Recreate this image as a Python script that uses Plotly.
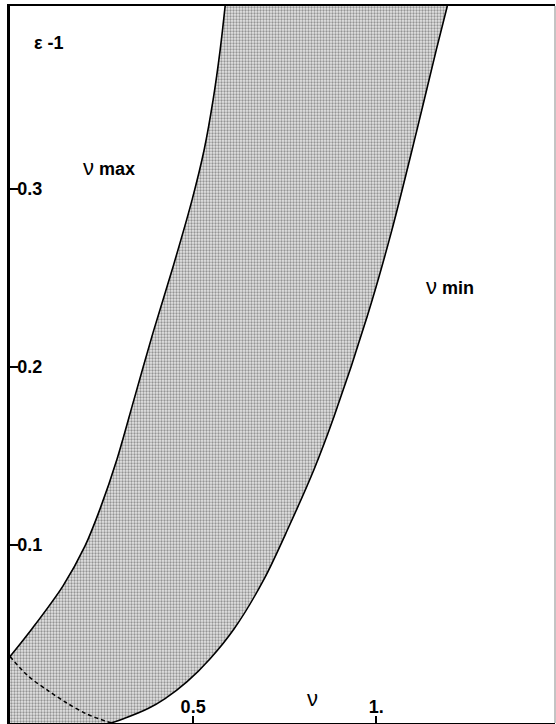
import plotly.graph_objects as go

# nu_max boundary (left edge of the band)
numax_nu = [0.0, 0.0601, 0.1448, 0.2049, 0.2459, 0.2923, 0.3388, 0.3907, 0.4454, 0.4973, 0.5301, 0.5546, 0.5738, 0.5874]
numax_eps = [0.0373, 0.0529, 0.0770, 0.0994, 0.1202, 0.1482, 0.1818, 0.2193, 0.2563, 0.2938, 0.3218, 0.3499, 0.3779, 0.4025]

# nu_min boundary (right edge of the band)
numin_nu = [0.2760, 0.3115, 0.3770, 0.4235, 0.4836, 0.5464, 0.6120, 0.6940, 0.7623, 0.8306, 0.8852, 0.9754, 1.0410, 1.1093, 1.1639, 1.1940]
numin_eps = [0.0, 0.0025, 0.0081, 0.0137, 0.0232, 0.0361, 0.0529, 0.0809, 0.1106, 0.1426, 0.1723, 0.2283, 0.2754, 0.3314, 0.3779, 0.4025]

# dashed continuation near origin
dash_nu = [0.0, 0.0500, 0.1066, 0.1530, 0.2100, 0.2760]
dash_eps = [0.0373, 0.0263, 0.0178, 0.0115, 0.0050, 0.0]

x_ticks = [0.5, 1.0]
x_tick_labels = ["0.5", "1."]
y_ticks = [0.1, 0.2, 0.3]
y_tick_labels = ["0.1", "0.2", "0.3"]

XMAX = 1.488
YMAX = 0.4025

# shaded region polygon: up the left curve, down the right curve, back along the axes
poly_x = numax_nu + numin_nu[::-1] + [0.0, 0.0]
poly_y = numax_eps + numin_eps[::-1] + [0.0, numax_eps[0]]

SM = 0.9
fig = go.Figure()
fig.add_trace(go.Scatter(
    x=poly_x, y=poly_y, mode="lines", fill="toself",
    line=dict(width=0, color="rgba(0,0,0,0)"),
    fillcolor="#d9d9d9",
    fillpattern=dict(shape=".", size=3, solidity=0.45, fgcolor="#444444", bgcolor="#e4e4e4"),
    hoverinfo="skip", showlegend=False,
))
fig.add_trace(go.Scatter(x=numax_nu, y=numax_eps, mode="lines",
                         line=dict(color="black", width=1.6, shape="spline", smoothing=SM), showlegend=False))
fig.add_trace(go.Scatter(x=numin_nu, y=numin_eps, mode="lines",
                         line=dict(color="black", width=1.6, shape="spline", smoothing=SM), showlegend=False))
fig.add_trace(go.Scatter(x=dash_nu, y=dash_eps, mode="lines",
                         line=dict(color="black", width=1.5, dash="4px,3px", shape="spline", smoothing=SM),
                         showlegend=False))

font_lbl = dict(family="Liberation Sans, Arial, sans-serif", size=18, color="black")

fig.update_xaxes(
    range=[0, XMAX], showgrid=False, zeroline=False,
    showline=True, linecolor="black", linewidth=2, mirror=True,
    ticks="inside", ticklen=7, tickwidth=1.5, tickcolor="black",
    tickvals=x_ticks, ticktext=["<b>%s</b>" % t for t in x_tick_labels],
    ticklabelposition="inside", tickfont=font_lbl,
)
fig.update_yaxes(
    range=[0, YMAX], showgrid=False, zeroline=False,
    showline=True, linecolor="black", linewidth=2.5,
    ticks="inside", ticklen=8, tickwidth=1.5, tickcolor="black",
    tickvals=y_ticks, ticktext=["<b>%s</b>" % t for t in y_tick_labels],
    ticklabelposition="inside", tickfont=font_lbl,
)

fig.add_shape(type="line", xref="paper", yref="paper", x0=1, x1=1, y0=0, y1=1,
              line=dict(color="#888888", width=1))

ann_font = dict(family="Liberation Sans, Arial, sans-serif", size=18, color="black")
nu_font = "<span style='font-size:22px'>ν</span>"
fig.add_annotation(x=0.107, y=0.382, text="<b>ε -1</b>", showarrow=False, font=ann_font)
fig.add_annotation(x=0.27, y=0.312, text=nu_font + " <b>max</b>", showarrow=False, font=ann_font)
fig.add_annotation(x=1.20, y=0.245, text=nu_font + " <b>min</b>", showarrow=False, font=ann_font)
fig.add_annotation(x=0.825, y=0.0137, text="ν", showarrow=False,
                   font=dict(family="Liberation Sans, Arial, sans-serif", size=22, color="black"))

fig.update_layout(
    width=556, height=724,
    margin=dict(l=10, r=1, t=6, b=1),
    plot_bgcolor="white", paper_bgcolor="white",
)

fig.write_html("out.html", config={"displayModeBar": False},
               post_script="document.body.style.margin='0';")
